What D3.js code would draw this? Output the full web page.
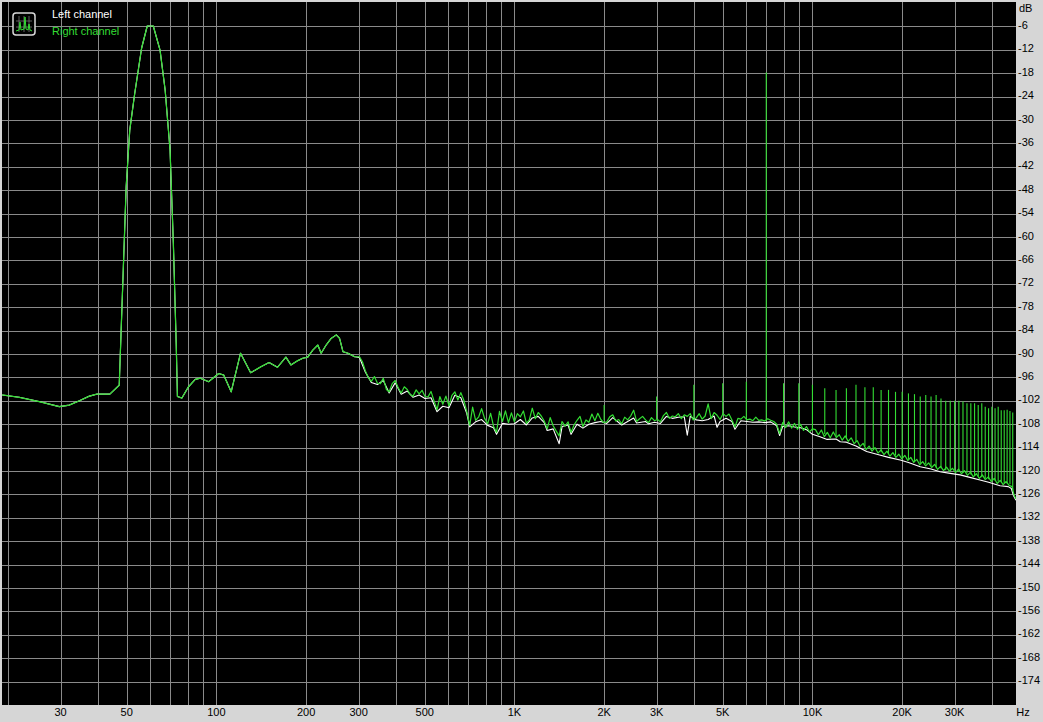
<!DOCTYPE html>
<html>
<head>
<meta charset="utf-8">
<script src="https://cdn.jsdelivr.net/npm/d3@7"></script>
<style>
	html, body { margin: 0; padding: 0; background: #d6d6d6; }
	svg { display: block; }
	text { font-family: "Liberation Sans", Arial, sans-serif; font-size: 11px; }
</style>
</head>
<body>
<svg id="chart" width="1043" height="722"></svg>
<script>

/*
Spectrum plot (IMD test, 60 Hz + 7 kHz)
Left and right channel levels in dB against frequency in Hz.
*/

// Low end [Hz, dB], both channels overlap here
const lowSpectrum = [[19.1, -100.5], [21.8, -101.1], [25.4, -102.2], [29.7, -103.5], [32.1, -103.1],
	[34.7, -102.0], [37.5, -100.8], [39.6, -100.3], [43.9, -100.3], [47.2, -98.0],
	[49.8, -47.1], [51.2, -32.6], [53.2, -23.2], [56.1, -11.6], [58.6, -5.9],
	[61.4, -5.9], [64.7, -12.1], [67.3, -22.3], [69.9, -37.7], [71.7, -61.5],
	[73.3, -87.2], [74.0, -100.9], [76.6, -101.3], [80.6, -98.4], [84.9, -96.5],
	[88.3, -96.2], [94.2, -97.1], [101.8, -95.0], [105.8, -95.4], [112.1, -99.7],
	[120.5, -89.8], [130.3, -94.8], [140.8, -93.3], [150.2, -92.2], [160.3, -93.4],
	[171.1, -90.8], [177.8, -92.8], [187.4, -91.7], [194.8, -91.1], [202.5, -90.8],
	[210.6, -89.0], [218.9, -87.7], [224.6, -89.8], [233.5, -87.7], [242.7, -86.0],
	[252.5, -85.1], [259.0, -86.0], [265.9, -89.4], [276.4, -89.8], [291.0, -90.7]];

// Right channel noise [Hz, dB] (green)
const rightNoise = [
	[302, -90.7], [309, -92.0], [316, -94.3], [324, -96.2], [331, -97.0], [339, -95.8], [347, -97.5], [355, -97.6],
	[363, -96.2], [372, -99.1], [380, -99.7], [389, -97.6], [398, -96.8], [407, -98.6], [417, -100.0], [427, -98.4],
	[437, -99.1], [447, -100.4], [457, -100.8], [468, -99.2], [479, -100.2], [490, -99.3], [501, -100.9], [513, -101.0],
	[525, -99.6], [537, -102.0], [550, -104.3], [562, -100.9], [575, -102.9], [589, -100.8], [603, -103.3], [617, -100.6],
	[631, -99.7], [646, -101.8], [661, -99.9], [676, -101.8], [692, -104.8], [708, -108.3], [724, -103.6], [741, -107.0],
	[759, -106.1], [776, -104.0], [794, -106.5], [813, -107.9], [832, -105.2], [851, -108.5], [871, -110.1], [891, -104.7],
	[912, -107.3], [933, -104.6], [955, -107.6], [977, -105.1],
	[1000, -107.4], [1023, -105.3], [1047, -106.1], [1072, -104.6], [1097, -107.8], [1122, -106.9], [1148, -103.9], [1175, -106.6],
	[1202, -105.0], [1230, -105.9], [1259, -107.2], [1288, -109.2], [1318, -106.3], [1349, -108.4], [1380, -109.7], [1413, -111.0],
	[1445, -107.3], [1479, -108.5], [1514, -107.4], [1549, -110.1], [1585, -108.2], [1622, -107.0], [1660, -106.0], [1698, -108.6],
	[1738, -106.9], [1778, -107.5], [1820, -105.4], [1862, -107.1], [1905, -105.2], [1950, -106.8], [1995, -107.6], [2042, -107.4],
	[2089, -106.1], [2138, -105.6], [2188, -107.2], [2239, -106.8], [2291, -107.9], [2344, -106.2], [2399, -106.9], [2455, -105.9],
	[2512, -104.4], [2570, -107.3], [2630, -106.6], [2692, -106.0], [2754, -106.9], [2818, -107.6], [2884, -106.3], [2951, -107.1],
	[3020, -106.8], [3090, -107.4], [3162, -105.8], [3236, -105.0], [3311, -106.5], [3388, -105.9], [3467, -106.1], [3548, -105.3],
	[3631, -106.6], [3715, -105.6], [3802, -106.0], [3890, -105.3], [3981, -106.9], [4074, -106.4], [4169, -105.3], [4266, -106.7],
	[4365, -105.9], [4467, -102.8], [4571, -106.6], [4677, -105.0], [4786, -105.7], [4898, -106.8], [5012, -105.3], [5129, -106.0],
	[5248, -105.4], [5370, -106.9], [5495, -108.7], [5623, -106.5], [5754, -106.7], [5888, -106.0], [6026, -106.9], [6166, -106.7],
	[6310, -107.1], [6457, -106.2], [6607, -107.0], [6761, -106.9], [6918, -107.2], [7079, -106.6], [7244, -107.0], [7413, -107.3],
	[7586, -108.0], [7762, -110.4], [7943, -107.6], [8128, -108.9], [8318, -107.4], [8511, -109.0], [8710, -107.8], [8913, -109.3],
	[9120, -108.0], [9333, -109.6], [9550, -108.6], [9772, -110.0], [10000, -109.2],
	[10233, -109.4], [10471, -110.7], [10715, -109.5], [10965, -111.2], [11220, -110.1], [11482, -111.5], [11749, -110.0], [12023, -111.4],
	[12303, -110.7], [12589, -112.1], [12882, -111.0], [13183, -112.4], [13490, -111.5], [13804, -113.0], [14125, -112.2], [14454, -113.7],
	[14791, -112.9], [15136, -114.5], [15488, -113.6], [15849, -114.9], [16218, -114.0], [16596, -115.4], [16982, -114.6], [17378, -115.8],
	[17783, -114.9], [18197, -116.2], [18621, -115.3], [19055, -116.5], [19498, -115.7], [19953, -116.9], [20417, -116.0], [20893, -117.3],
	[21380, -116.5], [21878, -117.8], [22387, -117.0], [22909, -118.4], [23442, -117.6], [23988, -118.7], [24547, -117.9], [25119, -119.1],
	[25704, -118.3], [26303, -119.6], [26915, -118.8], [27542, -119.9], [28184, -119.0], [28840, -120.1], [29512, -119.3], [30200, -120.4],
	[30903, -119.5], [31623, -120.7], [32359, -119.9], [33113, -121.1], [33884, -120.3], [34674, -121.5], [35481, -120.7], [36308, -121.9],
	[37154, -121.0], [38019, -122.2], [38905, -121.5], [39811, -122.7], [40738, -121.9], [41687, -123.2], [42658, -122.4], [43652, -123.5],
	[44668, -122.7], [45709, -123.7], [46774, -124.0], [47400, -126.0], [48200, -127.2]];

// Left channel noise [Hz, dB] (white), sits in the troughs of the green one
const leftNoise = [
	[302, -90.9], [316, -94.6], [331, -97.3], [347, -97.8], [363, -96.8], [380, -100.0], [398, -97.4], [417, -100.3],
	[437, -99.5], [457, -101.1], [479, -100.5], [501, -101.4], [525, -101.2], [550, -104.8], [575, -103.4], [603, -103.8],
	[631, -100.6], [661, -101.2], [692, -105.2], [708, -108.7], [741, -107.4], [776, -106.8], [813, -108.3], [851, -108.9],
	[871, -110.6], [912, -107.8], [955, -108.0], [1000, -107.9], [1047, -106.8], [1097, -108.2], [1148, -106.4], [1202, -106.0],
	[1259, -107.6], [1288, -109.6], [1349, -109.2], [1413, -113.0], [1445, -108.6], [1514, -108.2], [1549, -110.6], [1622, -108.0],
	[1698, -109.0], [1778, -108.0], [1862, -107.6], [1950, -107.3], [2042, -107.8], [2138, -106.3], [2291, -108.2], [2399, -107.3],
	[2512, -106.4], [2570, -107.7], [2754, -107.3], [2818, -107.9], [2951, -107.5], [3090, -107.8], [3236, -106.0], [3388, -106.5],
	[3548, -106.2], [3715, -106.1], [3802, -110.8], [3890, -106.0], [4074, -106.9], [4266, -107.1], [4467, -106.8], [4677, -105.9],
	[4786, -108.8], [4898, -107.3], [5129, -106.5], [5370, -107.3], [5495, -109.3], [5754, -107.1], [6026, -107.3], [6310, -107.5],
	[6607, -107.4], [6918, -107.6], [7244, -107.4], [7586, -108.4], [7762, -110.9], [7943, -108.6], [8318, -108.4], [8710, -108.7],
	[9120, -108.9], [9550, -109.4], [10000, -110.6], [10600, -111.2], [11200, -111.9], [12000, -111.8], [12400, -112.5], [13000, -112.6],
	[14000, -113.6], [15200, -115.0], [16800, -115.9], [18000, -116.5], [19700, -117.2], [21000, -117.8], [23000, -118.9], [25000, -119.5],
	[26800, -120.2], [29000, -120.6], [31300, -121.0], [34000, -121.7], [36500, -122.3], [39000, -122.9], [42600, -123.8], [45400, -124.0],
	[46500, -124.5], [47200, -126.2], [48200, -127.5]];

// Harmonic / intermodulation spikes on the right channel
const spikeFreq = [2000, 3000, 4000, 5000, 6000, 7000, 8000, 9000, 10000, 11000,
	12000, 13000, 14000, 15000, 16000, 17000, 18000, 19000, 20000, 21000,
	22000, 23000, 24000, 25000, 26000, 27000, 28000, 29000, 30000, 31000,
	32000, 33000, 34000, 35000, 36000, 37000, 38000, 39000, 40000, 41000,
	42000, 43000, 44000, 45000, 46000, 47000];
const spikeTop = [-103.1, -100.9, -97.9, -97.5, -97.1, -17.8, -97.5, -97.5, -97.9, -98.8,
	-99.2, -98.8, -97.9, -98.5, -98.5, -99.2, -99.2, -99.7, -99.7, -100.1,
	-100.3, -100.9, -100.5, -100.9, -100.5, -101.4, -102.0, -102.0, -102.0, -102.0,
	-102.2, -102.6, -102.6, -102.6, -103.1, -102.6, -103.5, -103.9, -103.5, -103.9,
	-103.5, -104.4, -104.4, -104.3, -104.6, -105.0];
const spikeBase = [-107.0, -106.8, -106.6, -105.5, -106.4, -107.0, -108.0, -108.7, -109.6, -110.5,
	-111.0, -111.6, -112.5, -113.6, -114.5, -115.2, -115.6, -116.0, -116.5, -117.0,
	-117.5, -118.1, -118.2, -118.8, -119.1, -119.3, -119.8, -120.0, -119.8, -120.2,
	-120.5, -120.6, -120.9, -121.3, -121.4, -121.6, -121.9, -122.1, -122.3, -122.5,
	-122.7, -122.9, -123.1, -123.2, -123.4, -125.0];

// Axis ticks
const gridFreq = [20, 30, 40, 50, 60, 70, 80, 90, 100, 200, 300, 400, 500, 600, 700, 800, 900,
	1000, 2000, 3000, 4000, 5000, 6000, 7000, 8000, 9000, 10000, 20000, 30000, 40000];
const freqLabels = [[30, "30"], [50, "50"], [100, "100"], [200, "200"], [300, "300"], [500, "500"],
	[1000, "1K"], [2000, "2K"], [3000, "3K"], [5000, "5K"], [10000, "10K"], [20000, "20K"], [30000, "30K"]];
const dbTicks = d3.range(-6, -180, -6);

const seriesNames = ["Left channel", "Right channel"];
const seriesColors = ["#ffffff", "#33dd33"];

// Draw spectrum
function drawSpectrum(svgId) {

	const svg = d3.select(svgId);

	const plot = {left: 2, right: 1016, top: 2, bottom: 705};

	// Scales
	const x = d3.scaleLog().domain([19.08, 48200]).range([plot.left, plot.right]);
	const y = d3.scaleLinear().domain([0, -180]).range([3, 705]);

	// Plot background
	svg.append("rect")
		.attr("x", plot.left).attr("y", plot.top)
		.attr("width", plot.right - plot.left)
		.attr("height", plot.bottom - plot.top)
		.attr("fill", "#000");

	svg.append("clipPath").attr("id", "plotClip")
		.append("rect")
		.attr("x", plot.left).attr("y", plot.top)
		.attr("width", plot.right - plot.left)
		.attr("height", plot.bottom - plot.top);

	// Grid
	const grid = svg.append("g").attr("class", "grid")
		.attr("stroke", "#8a8a8a").attr("stroke-width", 1)
		.attr("shape-rendering", "crispEdges");

	grid.selectAll("line.v")
		.data(gridFreq)
		.join("line")
		.attr("class", "v")
		.attr("x1", d => Math.round(x(d)) + 0.5)
		.attr("x2", d => Math.round(x(d)) + 0.5)
		.attr("y1", plot.top).attr("y2", plot.bottom);

	grid.selectAll("line.h")
		.data(dbTicks)
		.join("line")
		.attr("class", "h")
		.attr("y1", d => Math.round(y(d)) + 0.5)
		.attr("y2", d => Math.round(y(d)) + 0.5)
		.attr("x1", plot.left).attr("x2", plot.right);

	// Right side dB labels
	svg.append("g").selectAll("text")
		.data(dbTicks)
		.join("text")
		.attr("x", plot.right + 2)
		.attr("y", d => y(d) + 2.5)
		.attr("fill", "#000")
		.text(d => d);

	svg.append("text")
		.attr("x", plot.right + 3).attr("y", 11.5)
		.attr("fill", "#000")
		.text("dB");

	// Bottom Hz labels
	svg.append("g").selectAll("text")
		.data(freqLabels)
		.join("text")
		.attr("x", d => x(d[0]))
		.attr("y", 716)
		.attr("text-anchor", "middle")
		.attr("fill", "#000")
		.text(d => d[1]);

	svg.append("text")
		.attr("x", 1023).attr("y", 716)
		.attr("text-anchor", "middle")
		.attr("fill", "#000")
		.text("Hz");

	// Curves
	const line = d3.line()
		.x(d => x(d[0]))
		.y(d => y(d[1]));

	const leftPts = lowSpectrum.concat(leftNoise);
	const rightPts = lowSpectrum.concat(rightNoise);

	const curves = svg.append("g").attr("clip-path", "url(#plotClip)")
		.attr("fill", "none")
		.attr("stroke-linejoin", "round");

	curves.append("path")
		.attr("d", line(leftPts))
		.attr("stroke", seriesColors[0])
		.attr("stroke-width", 1.1);

	curves.append("path")
		.attr("d", line(rightPts))
		.attr("stroke", seriesColors[1])
		.attr("stroke-width", 1.2);

	// Spikes as thin vertical strokes
	curves.append("g").selectAll("path")
		.data(spikeFreq)
		.join("path")
		.attr("d", (f, i) => line([[f, spikeBase[i]], [f, spikeTop[i]]]))
		.attr("stroke", seriesColors[1])
		.attr("stroke-width", 1.1);

	// Legend
	const legend = svg.append("g").attr("class", "legend");

	const icon = legend.append("g").attr("transform", "translate(13,13)");
	icon.append("rect")
		.attr("x", 0).attr("y", 0).attr("width", 22).attr("height", 22).attr("rx", 3)
		.attr("fill", "#000").attr("stroke", "#d8d8d8").attr("stroke-width", 1.5);
	icon.append("path")
		.attr("d", "M6,3V19M11,3V19M16,3V19M3,8H19M3,14H19")
		.attr("stroke", "#777").attr("stroke-width", 0.8);
	icon.append("path")
		.attr("d", "M3,18L6,17L7,9L8,17L11,16L12,4L13,16L15,17L16,11L17,17L19,18")
		.attr("fill", "none").attr("stroke", seriesColors[1]).attr("stroke-width", 1);

	legend.selectAll("text")
		.data(seriesNames)
		.join("text")
		.attr("x", 52)
		.attr("y", (d, i) => 18 + i * 17)
		.attr("fill", (d, i) => seriesColors[i])
		.text(d => d);
}

drawSpectrum("#chart");
</script>
</body>
</html>
